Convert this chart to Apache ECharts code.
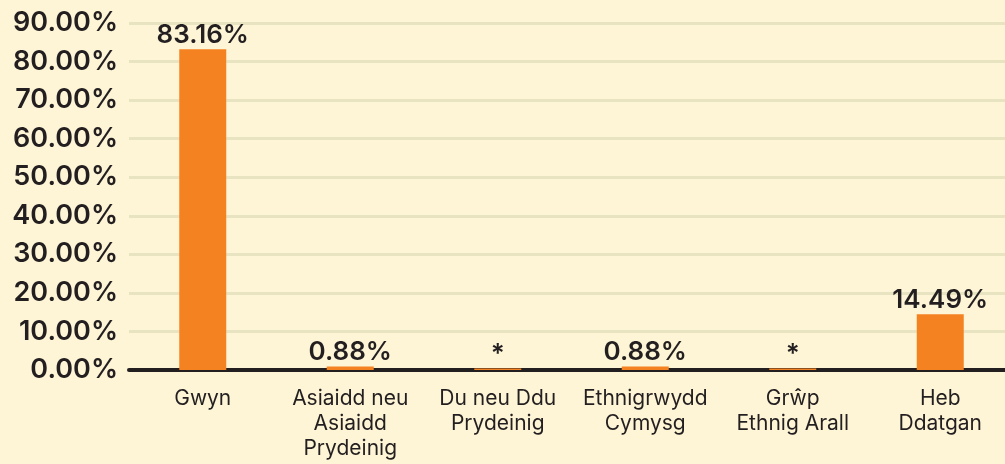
<!DOCTYPE html>
<html>
<head>
<meta charset="utf-8">
<script src="https://cdn.jsdelivr.net/npm/echarts@6/dist/echarts.min.js"></script>
<style>
  html, body { margin: 0; padding: 0; background: #fdf5d6; }
  #echarts { width: 1005px; height: 464px; }
</style>
</head>
<body>
<div id="echarts"></div>
<script>
// categories and values
const categories = [
  "Gwyn",
  "Asiaidd neu\nAsiaidd\nPrydeinig",
  "Du neu Ddu\nPrydeinig",
  "Ethnigrwydd\nCymysg",
  "Grŵp\nEthnig Arall",
  "Heb\nDdatgan"
];
// "*" categories are suppressed small values, drawn as thin bars
const values = [83.16, 0.88, 0.4, 0.88, 0.4, 14.49];
const valueLabels = ["83.16%", "0.88%", "*", "0.88%", "*", "14.49%"];

const FONT = "Inter";
const TEXT = "#231f20";

const dom = document.getElementById("echarts");
const myChart = echarts.init(dom, null, { renderer: "canvas", width: 1005, height: 464 });

const option = {
  animation: false,
  backgroundColor: "#fdf5d6",
  // plot runs a little past the right edge, the last category is cut off in the source
  grid: { left: 129, width: 885, top: 23, bottom: 94, outerBoundsMode: "none" },
  xAxis: {
    type: "category",
    data: categories,
    axisTick: { show: false },
    axisLine: { lineStyle: { color: TEXT, width: 4 } },
    axisLabel: {
      color: TEXT,
      fontFamily: FONT,
      fontSize: 21,
      lineHeight: 25,
      margin: 16,
      interval: 0
    }
  },
  yAxis: {
    type: "value",
    min: 0,
    max: 90,
    interval: 10,
    axisLine: { show: false },
    axisTick: { show: false },
    splitLine: { lineStyle: { color: "#e8e4c2", width: 3 } },
    axisLabel: {
      color: TEXT,
      fontFamily: FONT,
      fontSize: 27,
      fontWeight: 600,
      margin: 11,
      formatter: (v) => v.toFixed(2) + "%"
    }
  },
  series: [
    {
      type: "bar",
      data: values,
      barWidth: 47,
      itemStyle: { color: "#f58220" },
      label: {
        show: true,
        position: "top",
        distance: 1,
        color: TEXT,
        fontFamily: FONT,
        fontSize: 26,
        fontWeight: 600,
        formatter: (p) => valueLabels[p.dataIndex]
      }
    }
  ]
};
myChart.setOption(option);
</script>
</body>
</html>
